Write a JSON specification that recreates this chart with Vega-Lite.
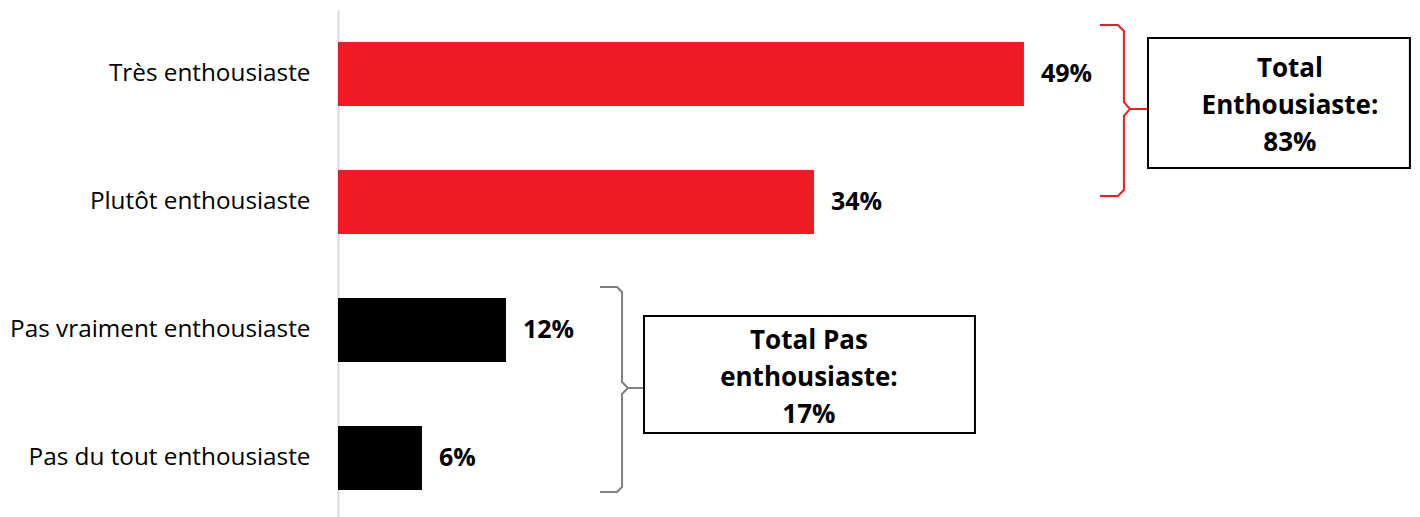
{
  "$schema": "https://vega.github.io/schema/vega-lite/v6.json",
  "autosize": {"type": "none"},
  "padding": {"left": 338, "top": 10, "right": 0, "bottom": 0},
  "width": 1082,
  "height": 512,
  "background": "white",
  "config": {
    "view": {"stroke": null},
    "font": "Open Sans",
    "text": {"font": "Open Sans"}
  },
  "layer": [
    {
      "data": {
        "values": [
          {"categorie": "Très enthousiaste", "pct": 0.49, "groupe": "Enthousiaste"},
          {"categorie": "Plutôt enthousiaste", "pct": 0.34, "groupe": "Enthousiaste"},
          {"categorie": "Pas vraiment enthousiaste", "pct": 0.12, "groupe": "Pas enthousiaste"},
          {"categorie": "Pas du tout enthousiaste", "pct": 0.06, "groupe": "Pas enthousiaste"}
        ]
      },
      "encoding": {
        "y": {
          "field": "categorie",
          "type": "nominal",
          "sort": null,
          "scale": {"paddingInner": 0.5, "paddingOuter": 0.25},
          "axis": {
            "title": null,
            "domainColor": "#D9D9D9",
            "domainWidth": 2,
            "ticks": false,
            "labelPadding": 28,
            "labelFontSize": 24.3,
            "labelLimit": 0,
            "labelColor": "#000000",
            "labelFont": "Open Sans",
            "grid": false
          }
        },
        "x": {
          "field": "pct",
          "type": "quantitative",
          "scale": {"domain": [0, 0.7729], "nice": false},
          "axis": null
        }
      },
      "layer": [
        {
          "mark": {"type": "bar"},
          "encoding": {
            "color": {
              "field": "groupe",
              "type": "nominal",
              "scale": {"domain": ["Enthousiaste", "Pas enthousiaste"], "range": ["#ED1C24", "#000000"]},
              "legend": null
            }
          }
        },
        {
          "mark": {"type": "text", "align": "left", "baseline": "middle", "dx": 17, "fontSize": 25, "fontWeight": "bold", "color": "#000000"},
          "encoding": {
            "text": {"field": "pct", "type": "quantitative", "format": ".0%"}
          }
        }
      ]
    },
    {
      "layer": [
        {
          "data": {
            "values": [
              {"seq": 1, "x": 0.5443, "y": -0.383},
              {"seq": 2, "x": 0.5571, "y": -0.383},
              {"seq": 3, "x": 0.5614, "y": -0.336},
              {"seq": 4, "x": 0.5614, "y": 0.219},
              {"seq": 5, "x": 0.5657, "y": 0.273},
              {"seq": 6, "x": 0.5786, "y": 0.273},
              {"seq": 7, "x": 0.5657, "y": 0.273},
              {"seq": 8, "x": 0.5614, "y": 0.328},
              {"seq": 9, "x": 0.5614, "y": 0.906},
              {"seq": 10, "x": 0.5571, "y": 0.953},
              {"seq": 11, "x": 0.5443, "y": 0.953}
            ]
          },
          "mark": {"type": "line", "color": "#ED1C24", "strokeWidth": 2},
          "encoding": {
            "x": {"field": "x", "type": "quantitative", "scale": {"domain": [0, 0.7729], "nice": false}, "axis": null},
            "y": {"field": "y", "type": "quantitative", "scale": {"domain": [-0.5, 3.5], "reverse": true, "nice": false, "zero": false}, "axis": null},
            "order": {"field": "seq", "type": "quantitative"}
          }
        },
        {
          "data": {
            "values": [
              {"seq": 1, "x": 0.1871, "y": 1.664},
              {"seq": 2, "x": 0.1993, "y": 1.664},
              {"seq": 3, "x": 0.2029, "y": 1.703},
              {"seq": 4, "x": 0.2029, "y": 2.406},
              {"seq": 5, "x": 0.2071, "y": 2.453},
              {"seq": 6, "x": 0.2179, "y": 2.453},
              {"seq": 7, "x": 0.2071, "y": 2.453},
              {"seq": 8, "x": 0.2029, "y": 2.5},
              {"seq": 9, "x": 0.2029, "y": 3.227},
              {"seq": 10, "x": 0.1993, "y": 3.266},
              {"seq": 11, "x": 0.1871, "y": 3.266}
            ]
          },
          "mark": {"type": "line", "color": "#808080", "strokeWidth": 2},
          "encoding": {
            "x": {"field": "x", "type": "quantitative", "scale": {"domain": [0, 0.7729], "nice": false}, "axis": null},
            "y": {"field": "y", "type": "quantitative", "scale": {"domain": [-0.5, 3.5], "reverse": true, "nice": false, "zero": false}, "axis": null},
            "order": {"field": "seq", "type": "quantitative"}
          }
        },
        {
          "data": {
            "values": [
              {"x": 0.5786, "x2": 0.7657, "y": -0.281, "y2": 0.734, "tx": 0.68, "ty": -0.04, "label": "Total\nEnthousiaste:\n83%"},
              {"x": 0.2186, "x2": 0.455, "y": 1.891, "y2": 2.805, "tx": 0.3364, "ty": 2.085, "label": "Total Pas\nenthousiaste:\n17%"}
            ]
          },
          "layer": [
            {
              "mark": {"type": "rect", "fill": "#FFFFFF", "stroke": "#000000", "strokeWidth": 2},
              "encoding": {
                "x": {"field": "x", "type": "quantitative", "scale": {"domain": [0, 0.7729], "nice": false}, "axis": null},
                "x2": {"field": "x2"},
                "y": {"field": "y", "type": "quantitative", "scale": {"domain": [-0.5, 3.5], "reverse": true, "nice": false, "zero": false}, "axis": null},
                "y2": {"field": "y2"}
              }
            },
            {
              "mark": {"type": "text", "align": "center", "baseline": "middle", "fontSize": 26, "fontWeight": "bold", "lineBreak": "\n", "lineHeight": 37, "color": "#000000"},
              "encoding": {
                "x": {"field": "tx", "type": "quantitative", "scale": {"domain": [0, 0.7729], "nice": false}, "axis": null},
                "y": {"field": "ty", "type": "quantitative", "scale": {"domain": [-0.5, 3.5], "reverse": true, "nice": false, "zero": false}, "axis": null},
                "text": {"field": "label"}
              }
            }
          ]
        }
      ]
    }
  ],
  "resolve": {"scale": {"y": "independent"}}
}
